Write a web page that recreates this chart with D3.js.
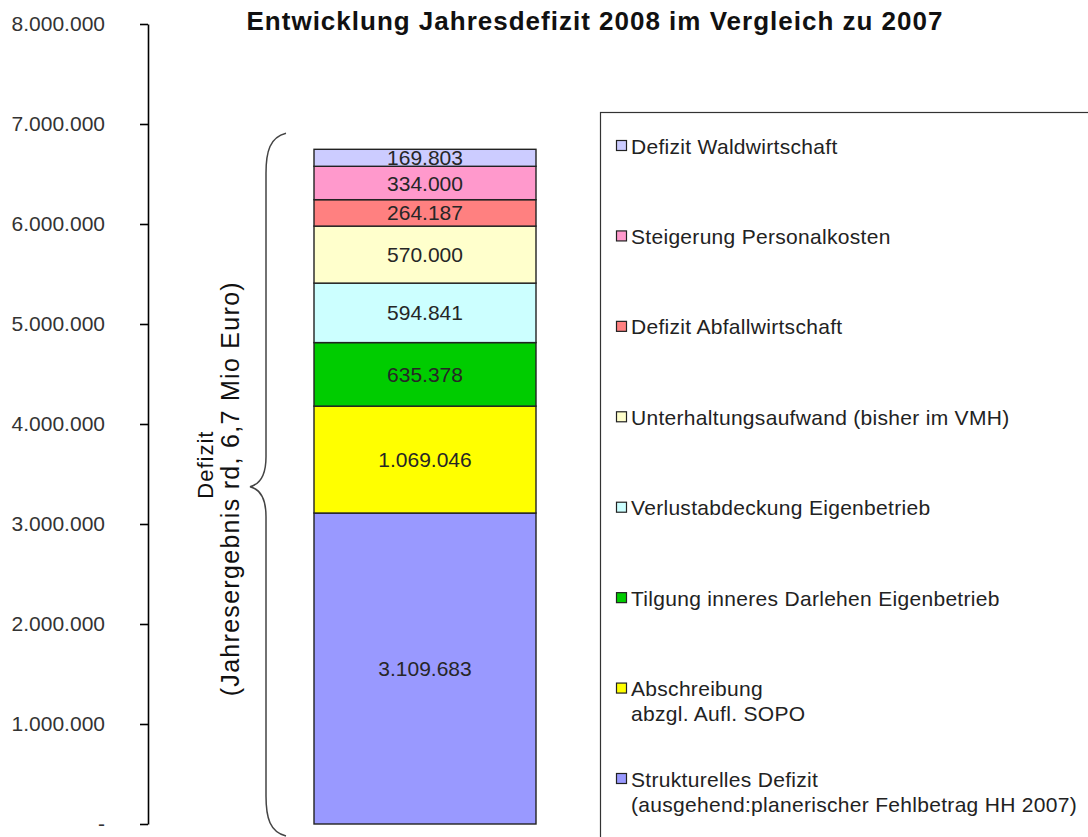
<!DOCTYPE html>
<html>
<head>
<meta charset="utf-8">
<script src="https://cdn.jsdelivr.net/npm/d3@7"></script>
<style>
  body { margin: 0; background: #fff; }
  text { font-family: "Liberation Sans", Arial, sans-serif; }
</style>
</head>
<body>
<div id="chart"></div>
<script>
// data, bottom to top of the stack
const categories = [
  'Strukturelles Defizit',
  'Abschreibung',
  'Tilgung inneres Darlehen Eigenbetrieb',
  'Verlustabdeckung Eigenbetrieb',
  'Unterhaltungsaufwand (bisher im VMH)',
  'Defizit Abfallwirtschaft',
  'Steigerung Personalkosten',
  'Defizit Waldwirtschaft'
];
const legendLines = [
  ['Strukturelles Defizit', '(ausgehend:planerischer Fehlbetrag HH 2007)'],
  ['Abschreibung', 'abzgl. Aufl. SOPO'],
  ['Tilgung inneres Darlehen Eigenbetrieb'],
  ['Verlustabdeckung Eigenbetrieb'],
  ['Unterhaltungsaufwand (bisher im VMH)'],
  ['Defizit Abfallwirtschaft'],
  ['Steigerung Personalkosten'],
  ['Defizit Waldwirtschaft']
];
const values = [3109683, 1069046, 635378, 594841, 570000, 264187, 334000, 169803];
const colorList = ['#9999ff', '#ffff00', '#00cc00', '#ccffff', '#ffffcc', '#ff8080', '#ff99cc', '#ccccff'];
const yTicks = [0, 1000000, 2000000, 3000000, 4000000, 5000000, 6000000, 7000000, 8000000];
const title = 'Entwicklung Jahresdefizit 2008 im Vergleich zu 2007';
const braceLabel = ['Defizit', '(Jahresergebnis rd, 6,7 Mio Euro)'];

const width = 1088;
const height = 837;

const svg = d3.select('#chart')
  .append('svg')
    .attr('width', width)
    .attr('height', height);

const y = d3.scaleLinear().domain([0, 8000000]).range([824, 24]);
const x = d3.scaleBand().domain(['2008']).range([314, 536]).padding(0);
const color = d3.scaleOrdinal().domain(categories).range(colorList);

const deFormat = d3.formatLocale({decimal: ',', thousands: '.', grouping: [3], currency: ['', '€']}).format(',d');

// stack
const stacked = [];
let acc = 0;
categories.forEach((c, i) => {
  stacked.push({k: c, v: values[i], y0: acc, y1: acc + values[i]});
  acc += values[i];
});
const total = acc;

// title
svg.append('text')
  .attr('x', 595)
  .attr('y', 30)
  .attr('text-anchor', 'middle')
  .style('font-size', '26px')
  .style('font-weight', 'bold')
  .style('letter-spacing', '1px')
  .attr('fill', '#111')
  .text(title);

// y axis
const yAxis = svg.append('g')
  .attr('transform', 'translate(148,0)')
  .call(d3.axisLeft(y)
    .tickValues(yTicks)
    .tickSize(8)
    .tickSizeOuter(0)
    .tickPadding(35)
    .tickFormat(d => d === 0 ? '-' : deFormat(d)));
yAxis.select('.domain').attr('stroke', '#000').attr('stroke-width', 1.6);
yAxis.selectAll('.tick line').attr('stroke', '#000').attr('stroke-width', 1.6);
yAxis.selectAll('.tick text')
  .style('font-size', '21px')
  .attr('fill', '#333');

// bars
const defs = svg.append('defs');
const segs = svg.append('g').selectAll('.seg').data(stacked).enter().append('g').attr('class', 'seg');
segs.each(function(d, i) {
  defs.append('clipPath').attr('id', 'clip' + i)
    .append('rect')
      .attr('x', x('2008'))
      .attr('y', y(d.y1))
      .attr('width', x.bandwidth())
      .attr('height', y(d.y0) - y(d.y1));
});
segs.append('rect')
  .attr('x', x('2008'))
  .attr('y', d => y(d.y1))
  .attr('width', x.bandwidth())
  .attr('height', d => y(d.y0) - y(d.y1))
  .attr('fill', d => color(d.k))
  .attr('stroke', '#222')
  .attr('stroke-width', 1.4);
segs.append('text')
  .attr('clip-path', (d, i) => `url(#clip${i})`)
  .attr('x', x('2008') + x.bandwidth() / 2)
  .attr('y', d => (y(d.y0) + y(d.y1)) / 2)
  .attr('dy', '0.36em')
  .attr('text-anchor', 'middle')
  .style('font-size', '21px')
  .attr('fill', '#262626')
  .text(d => deFormat(d.v));

// curly brace
const bTop = y(total) - 16;
const bBot = y(0) + 12;
const bMid = y(total / 2);
const bx = 266;
const brace = `M${bx + 20},${bTop} C${bx + 4},${bTop + 4} ${bx},${bTop + 18} ${bx},${bTop + 40}
  L${bx},${bMid - 30} C${bx},${bMid - 8} ${bx - 8},${bMid - 2} ${bx - 16},${bMid}
  C${bx - 8},${bMid + 2} ${bx},${bMid + 8} ${bx},${bMid + 30}
  L${bx},${bBot - 40} C${bx},${bBot - 18} ${bx + 4},${bBot - 4} ${bx + 20},${bBot}`;
svg.append('path')
  .attr('d', brace)
  .attr('fill', 'none')
  .attr('stroke', '#444')
  .attr('stroke-width', 1.5);

const bl = svg.append('g')
  .attr('transform', `translate(0,${bMid}) rotate(-90)`)
  .attr('fill', '#111');
bl.append('text')
  .attr('x', 22).attr('y', 213)
  .attr('text-anchor', 'middle')
  .style('font-size', '22px')
  .style('letter-spacing', '1px')
  .text(braceLabel[0]);
bl.append('text')
  .attr('x', -2).attr('y', 239)
  .attr('text-anchor', 'middle')
  .style('font-size', '25px')
  .style('letter-spacing', '1.3px')
  .text(braceLabel[1]);

// legend
svg.append('rect')
  .attr('x', 600.5)
  .attr('y', 112.5)
  .attr('width', 600)
  .attr('height', 800)
  .attr('fill', 'none')
  .attr('stroke', '#333')
  .attr('stroke-width', 1.2);

const legendY = d3.scalePoint().domain(categories.slice().reverse()).range([146, 779]);
const lg = svg.append('g').selectAll('.lg').data(categories).enter().append('g')
  .attr('transform', d => `translate(616,${legendY(d)})`);
lg.append('rect')
  .attr('x', 0.5)
  .attr('y', -5.5)
  .attr('width', 10)
  .attr('height', 10)
  .attr('fill', d => color(d))
  .attr('stroke', '#222')
  .attr('stroke-width', 1.2);
lg.append('text')
  .attr('x', 15)
  .attr('y', 0)
  .style('font-size', '21px')
  .style('letter-spacing', '0.3px')
  .attr('fill', '#222')
  .selectAll('tspan')
  .data((d, i) => legendLines[i])
  .enter().append('tspan')
    .attr('x', 15)
    .attr('dy', (t, j) => j === 0 ? '0.36em' : '1.2em')
    .text(t => t);
</script>
</body>
</html>
